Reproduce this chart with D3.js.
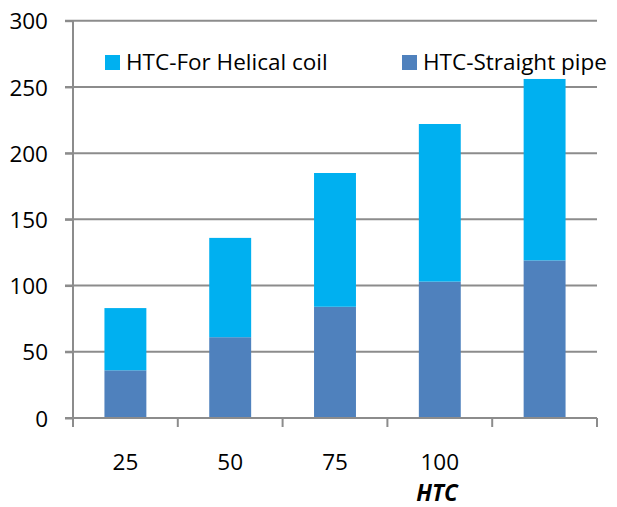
<!DOCTYPE html>
<html><head><meta charset="utf-8">
<script src="https://cdn.jsdelivr.net/npm/d3@7"></script>
<style>body{margin:0;background:#fff}svg{display:block}text{font-family:"Open Sans",sans-serif}</style>
</head><body><div id="chart"></div>
<script>
const categories = ["25", "50", "75", "100", ""];
const straightPipe = [36, 61, 84, 103, 119];
const helicalCoil = [47, 75, 101, 119, 137];
const yTicks = [0, 50, 100, 150, 200, 250, 300];
const seriesNames = ["HTC-For Helical coil", "HTC-Straight pipe"];
const axisTitle = "HTC";

const W = 617, H = 507;
const m = {left: 73, right: 20, top: 20.7, bottom: 89};
const FS = 22.5;
const svg = d3.select("#chart").append("svg").attr("width", W).attr("height", H);

const x = d3.scaleBand().domain(d3.range(categories.length)).range([m.left, W - m.right]).paddingInner(0.6).paddingOuter(0.3);
const y = d3.scaleLinear().domain([0, 300]).range([H - m.bottom, m.top]);
const gridCol = "#8c8c8c";

// gridlines
svg.append("g").selectAll("line").data(yTicks.filter(d => d > 0)).join("line")
  .attr("x1", m.left - 8).attr("x2", W - m.right)
  .attr("y1", d => y(d)).attr("y2", d => y(d))
  .attr("stroke", gridCol).attr("stroke-width", 2);

// stacked data
const rows = categories.map((c, i) => ({i, straight: straightPipe[i], helical: helicalCoil[i]}));
const stack = d3.stack().keys(["straight", "helical"])(rows);
const colors = {straight: "#4f81bd", helical: "#00b0f0"};
svg.append("g").selectAll("g").data(stack).join("g").attr("fill", s => colors[s.key])
  .selectAll("rect").data(d => d).join("rect")
  .attr("x", d => x(d.data.i)).attr("width", x.bandwidth())
  .attr("y", d => y(d[1])).attr("height", d => y(d[0]) - y(d[1]));

// y axis
const yAxis = svg.append("g").attr("transform", `translate(${m.left},0)`)
  .call(d3.axisLeft(y).tickValues(yTicks).tickSize(8).tickPadding(17).tickFormat(d3.format("d")));
yAxis.select(".domain").attr("stroke", gridCol).attr("stroke-width", 2).attr("d", `M0,${y(300)}V${y(0) + 8}`);
yAxis.selectAll(".tick line").attr("stroke", gridCol).attr("stroke-width", 2);
yAxis.selectAll("text").attr("font-size", FS).attr("fill", "#000").attr("font-family", "Open Sans, sans-serif").attr("dy", "0.36em");

// x axis
const bounds = d3.range(categories.length + 1).map(k => m.left + k * (W - m.left - m.right) / categories.length);
const xg = svg.append("g");
xg.append("line").attr("x1", m.left - 8).attr("x2", W - m.right).attr("y1", y(0)).attr("y2", y(0)).attr("stroke", gridCol).attr("stroke-width", 2);
xg.selectAll("line.t").data(bounds).join("line").attr("class", "t")
  .attr("x1", d => d).attr("x2", d => d).attr("y1", y(0)).attr("y2", y(0) + 9)
  .attr("stroke", gridCol).attr("stroke-width", 2);
xg.selectAll("text").data(categories).join("text")
  .attr("x", (d, i) => x(i) + x.bandwidth() / 2).attr("y", 470)
  .attr("text-anchor", "middle").attr("font-size", FS).attr("fill", "#000").text(d => d);

svg.append("text").attr("x", 437).attr("y", 501).attr("text-anchor", "middle")
  .attr("font-size", FS).attr("font-weight", "bold").attr("font-style", "italic").text(axisTitle);

// legend
const legend = [{name: seriesNames[0], color: colors.helical, x: 105}, {name: seriesNames[1], color: colors.straight, x: 402}];
const lg = svg.append("g").selectAll("g").data(legend).join("g").attr("transform", d => `translate(${d.x},55)`);
lg.append("rect").attr("width", 15).attr("height", 15).attr("fill", d => d.color);
lg.append("text").attr("x", 21).attr("y", 15).attr("font-size", FS).attr("fill", "#000").text(d => d.name);
</script></body></html>
